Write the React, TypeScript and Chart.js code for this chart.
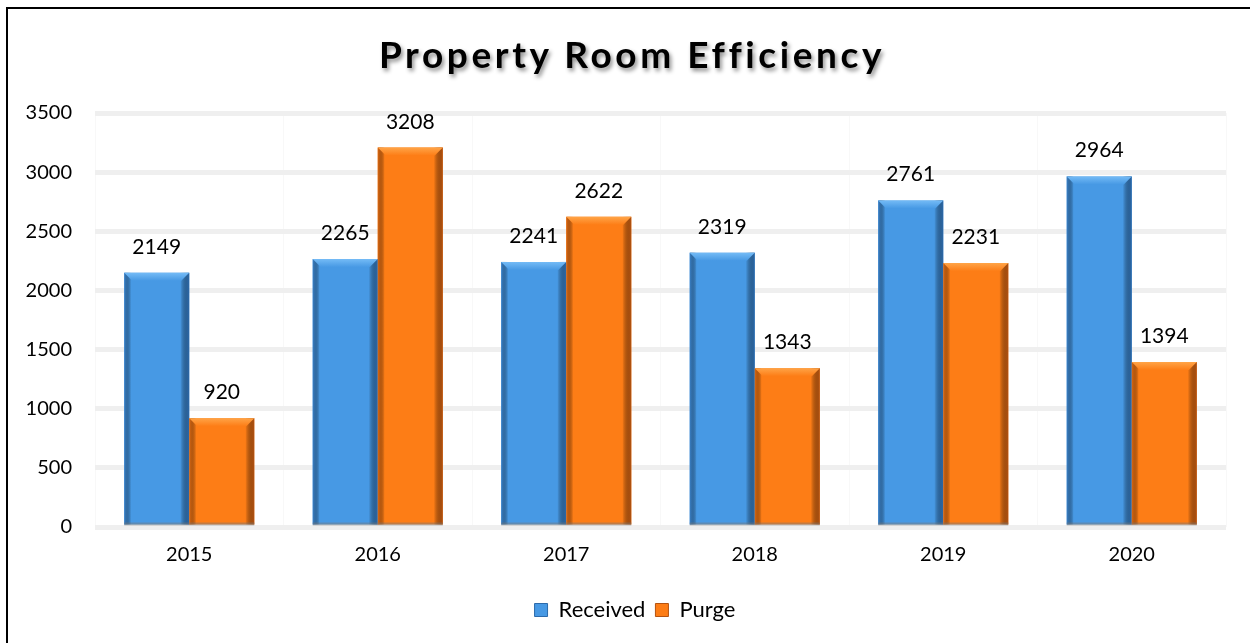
import React, { useEffect, useRef } from "react";
import { Chart, registerables } from "chart.js";

Chart.register(...registerables);

const categories = ["2015", "2016", "2017", "2018", "2019", "2020"];
const receivedValues = [2149, 2265, 2241, 2319, 2761, 2964];
const purgeValues = [920, 3208, 2622, 1343, 2231, 1394];
const yTicks = [0, 500, 1000, 1500, 2000, 2500, 3000, 3500];
const titleText = "Property Room Efficiency";

const FONT = "Lato, 'Open Sans', sans-serif";

const palette = [
  { main: "#4799e4", light: "#74bbf6", dark: "#2c6aab", left: "#3a82ca" },
  { main: "#fd7d16", light: "#ffa447", dark: "#b55310", left: "#e06a12" },
];

const bevelPlugin = {
  id: "bevel",
  afterDatasetsDraw(chart: any) {
    const ctx = chart.ctx;
    chart.data.datasets.forEach((_ds: any, di: number) => {
      const meta = chart.getDatasetMeta(di);
      const c = palette[di];
      meta.data.forEach((bar: any) => {
        const w = bar.width;
        const x0 = bar.x - w / 2;
        const x1 = bar.x + w / 2;
        const y0 = Math.min(bar.y, bar.base);
        const y1 = Math.max(bar.y, bar.base);
        const b = 8;
        ctx.save();
        let g = ctx.createLinearGradient(x0, 0, x0 + 7, 0);
        g.addColorStop(0, c.left);
        g.addColorStop(1, "rgba(0,0,0,0)");
        ctx.fillStyle = g;
        ctx.fillRect(x0, y0, 7, y1 - y0);
        g = ctx.createLinearGradient(x1 - 9, 0, x1, 0);
        g.addColorStop(0, "rgba(0,0,0,0)");
        g.addColorStop(1, c.dark);
        ctx.fillStyle = g;
        ctx.fillRect(x1 - 9, y0, 9, y1 - y0);
        g = ctx.createLinearGradient(0, y0, 0, y0 + b);
        g.addColorStop(0, c.light);
        g.addColorStop(1, c.main);
        ctx.fillStyle = g;
        ctx.beginPath();
        ctx.moveTo(x0, y0);
        ctx.lineTo(x1, y0);
        ctx.lineTo(x1 - b, y0 + b);
        ctx.lineTo(x0 + b, y0 + b);
        ctx.closePath();
        ctx.fill();
        ctx.fillStyle = "rgba(120,120,120,0.45)";
        ctx.fillRect(x0, y1 - 2, w, 3);
        ctx.restore();
      });
    });
  },
};

const valueLabelPlugin = {
  id: "valueLabels",
  afterDatasetsDraw(chart: any) {
    const ctx = chart.ctx;
    ctx.save();
    ctx.font = `21px ${FONT}`;
    ctx.fillStyle = "#000";
    ctx.textAlign = "center";
    ctx.textBaseline = "alphabetic";
    chart.data.datasets.forEach((ds: any, di: number) => {
      const meta = chart.getDatasetMeta(di);
      meta.data.forEach((bar: any, i: number) => {
        ctx.fillText(String(ds.data[i]), bar.x, bar.y - 19);
      });
    });
    ctx.restore();
  },
};

const legendShiftPlugin = {
  id: "legendShift",
  afterLayout(chart: any) {
    const lg = chart.legend;
    if (lg) {
      lg.left += 22;
      lg.right += 22;
    }
  },
};

export default function App() {
  const canvasRef = useRef<HTMLCanvasElement | null>(null);

  useEffect(() => {
    if (!canvasRef.current) return;
    const chart = new Chart(canvasRef.current, {
      type: "bar",
      data: {
        labels: categories,
        datasets: [
          { label: "Received", data: receivedValues, backgroundColor: palette[0].main, borderWidth: 0 },
          { label: "Purge", data: purgeValues, backgroundColor: palette[1].main, borderWidth: 0 },
        ],
      },
      options: {
        responsive: false,
        animation: false,
        devicePixelRatio: 1,
        layout: { padding: { top: 113, left: 0, right: 24, bottom: 12 } },
        datasets: {
          bar: { categoryPercentage: 0.69, barPercentage: 1 },
        },
        scales: {
          x: {
            grid: { color: "#f8f8f8", lineWidth: 1, drawTicks: false, offset: true },
            border: { display: false },
            ticks: { color: "#000", font: { family: FONT, size: 20 }, padding: 16 },
            afterFit: (s: any) => {
              s.height = 62;
            },
          },
          y: {
            min: 0,
            max: 3500,
            afterBuildTicks: (s: any) => {
              s.ticks = yTicks.map((v) => ({ value: v }));
            },
            grid: { color: "#efefef", lineWidth: 5, drawTicks: false },
            border: { display: false },
            ticks: {
              color: "#000",
              font: { family: FONT, size: 20 },
              padding: 23,
              callback: (v: any) => String(v),
            },
            afterFit: (s: any) => {
              s.width = 95;
            },
          },
        },
        plugins: {
          title: { display: false },
          tooltip: { enabled: false },
          legend: {
            position: "bottom",
            labels: {
              color: "#000",
              font: { family: FONT, size: 22 },
              boxWidth: 13,
              boxHeight: 13,
              padding: 10,
              generateLabels: (ch: any) =>
                ch.data.datasets.map((ds: any, i: number) => ({
                  text: ds.label,
                  fillStyle: palette[i].main,
                  strokeStyle: palette[i].dark,
                  lineWidth: 1,
                  hidden: false,
                  datasetIndex: i,
                })),
            },
          },
        },
      },
      plugins: [bevelPlugin, valueLabelPlugin, legendShiftPlugin],
    });
    return () => chart.destroy();
  }, []);

  return (
    <div style={{ position: "absolute", left: 0, top: 0, width: 1250, height: 643, background: "#fff", overflow: "hidden" }}>
      <div
        style={{
          position: "absolute",
          left: 6,
          top: 7,
          width: 1300,
          height: 700,
          borderLeft: "2px solid #000",
          borderTop: "2px solid #000",
        }}
      />
      <canvas ref={canvasRef} width={1250} height={643} style={{ position: "absolute", left: 0, top: 0 }} />
      <div
        style={{
          position: "absolute",
          left: 0,
          top: 35,
          width: 1264,
          textAlign: "center",
          fontFamily: FONT,
          fontWeight: 700,
          fontSize: 37,
          lineHeight: "37px",
          letterSpacing: 3.6,
          color: "#000",
          textShadow: "2px 3px 4px rgba(0,0,0,0.45)",
        }}
      >
        {titleText}
      </div>
    </div>
  );
}
